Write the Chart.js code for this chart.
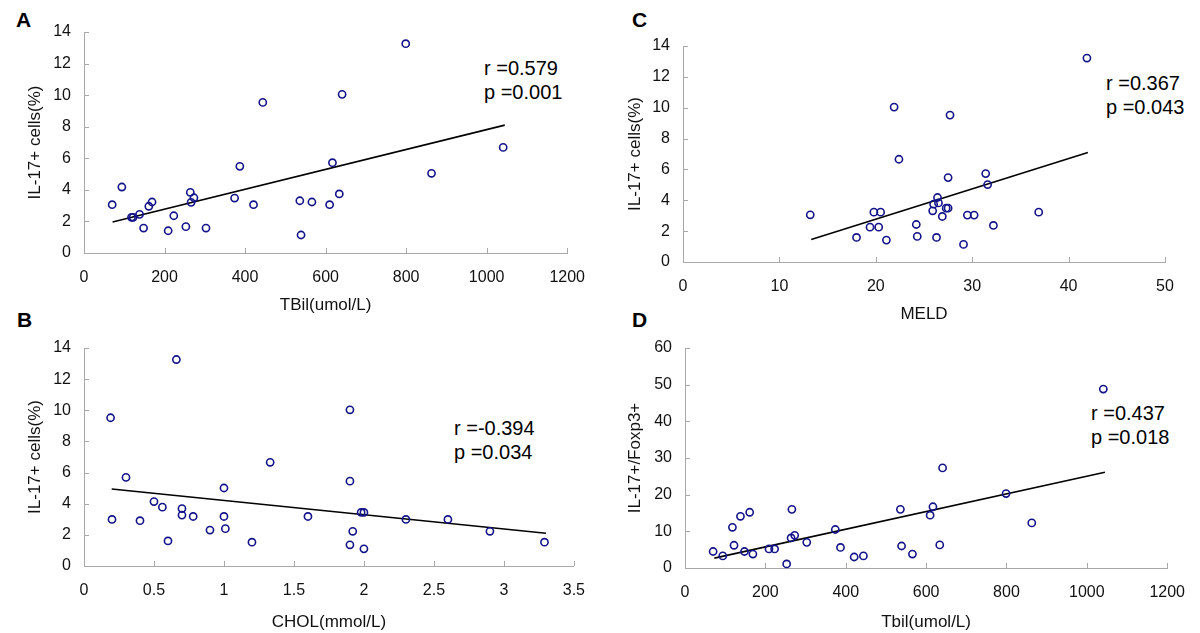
<!DOCTYPE html>
<html>
<head>
<meta charset="utf-8">
<script src="https://cdn.jsdelivr.net/npm/chart.js@4.4.0/dist/chart.umd.min.js"></script>
<style>
  body { margin: 0; background: #fff; width: 1200px; height: 633px; position: relative; overflow: hidden;
         font-family: 'Liberation Sans', Arial, sans-serif; }
  canvas { position: absolute; }
  .tag { position: absolute; font-weight: bold; font-size: 21px; line-height: 24px; color: #000; }
  .stat { position: absolute; font-size: 20px; line-height: 24px; color: #000; white-space: pre; }
</style>
</head>
<body>

<div class="tag" style="left:16px; top:8px;">A</div>
<div class="tag" style="left:632px; top:8px;">C</div>
<div class="tag" style="left:17px; top:308px;">B</div>
<div class="tag" style="left:632px; top:308px;">D</div>

<div class="stat" style="left:484px; top:56px;">r =0.579<br>p =0.001</div>
<div class="stat" style="left:1106px; top:71px;">r =0.367<br>p =0.043</div>
<div class="stat" style="left:454px; top:416px;">r =-0.394<br>p =0.034</div>
<div class="stat" style="left:1091px; top:401px;">r =0.437<br>p =0.018</div>

<script>
// TBil is the same for panels A and D
const tbil = [70, 94, 118, 122, 138, 148, 161, 169, 209, 223, 253, 264, 266, 273, 303, 374, 387, 421, 444, 536, 539, 566, 610, 617, 634, 641, 799, 863, 1041];
const il17A = [3.06, 4.18, 2.26, 2.26, 2.45, 1.58, 2.96, 3.23, 1.41, 2.36, 1.67, 3.84, 3.21, 3.50, 1.58, 3.48, 5.49, 3.06, 9.54, 3.31, 1.14, 3.23, 3.06, 5.72, 3.74, 10.05, 13.26, 5.05, 6.69];
const ratioD = [4.5, 3.3, 11.1, 6.2, 14.1, 4.5, 15.2, 3.8, 5.2, 5.2, 1.1, 8.2, 16.0, 8.9, 7.0, 10.5, 5.6, 3.0, 3.3, 16.0, 6.0, 3.8, 14.4, 16.7, 6.3, 27.3, 20.3, 12.3, 48.8];

const meld = [13.2, 18.0, 19.4, 19.8, 20.3, 20.5, 21.1, 21.9, 22.4, 24.2, 24.3, 25.9, 26.0, 26.3, 26.4, 26.5, 26.9, 27.3, 27.5, 27.5, 27.7, 29.1, 29.5, 30.2, 31.4, 31.6, 32.2, 36.9, 41.9];
const il17C = [3.06, 1.59, 2.26, 3.23, 2.26, 3.23, 1.42, 10.04, 6.66, 2.43, 1.66, 3.32, 3.75, 1.59, 4.18, 3.83, 2.95, 3.49, 3.49, 5.47, 9.52, 1.14, 3.04, 3.04, 5.73, 5.02, 2.37, 3.23, 13.22];

const chol = [0.19, 0.20, 0.30, 0.40, 0.50, 0.56, 0.60, 0.66, 0.70, 0.70, 0.78, 0.90, 1.00, 1.00, 1.01, 1.20, 1.33, 1.60, 1.90, 1.90, 1.90, 1.92, 1.98, 2.00, 2.00, 2.30, 2.60, 2.90, 3.29];
const il17B = [9.52, 2.99, 5.69, 2.91, 4.14, 3.78, 1.61, 13.26, 3.69, 3.27, 3.18, 2.31, 5.01, 3.18, 2.40, 1.53, 6.66, 3.18, 10.03, 5.45, 1.36, 2.23, 3.44, 3.44, 1.10, 2.99, 2.99, 2.23, 1.53];

// regression line end points
const fitAX = [71, 1045], fitAY = [1.96, 8.1];
const fitBX = [0.198, 3.30], fitBY = [4.94, 2.10];
const fitCX = [13.3, 42.0], fitCY = [1.46, 7.09];
const fitDX = [73, 1045], fitDY = [2.7, 26.1];

// tick labels
const tbilTicks = [0, 200, 400, 600, 800, 1000, 1200];
const meldTicks = [0, 10, 20, 30, 40, 50];
const cholTicks = [0, 0.5, 1, 1.5, 2, 2.5, 3, 3.5];
const pctTicks = [0, 2, 4, 6, 8, 10, 12, 14];
const ratioTicks = [0, 10, 20, 30, 40, 50, 60];

const axisColor = '#a8a8a8';
const textColor = '#111';
const markColor = '#13138a';

// small tick marks pointing into the plot, like the original
const innerTicks = {
    id: 'innerTicks',
    afterDraw(chart) {
        const { ctx, chartArea, scales } = chart;
        ctx.save();
        ctx.strokeStyle = axisColor;
        ctx.lineWidth = 1;
        ctx.beginPath();
        scales.x.ticks.forEach(t => {
            const px = Math.round(scales.x.getPixelForValue(t.value)) + 0.5;
            ctx.moveTo(px, chartArea.bottom);
            ctx.lineTo(px, chartArea.bottom - 5);
        });
        scales.y.ticks.forEach(t => {
            const py = Math.round(scales.y.getPixelForValue(t.value)) + 0.5;
            ctx.moveTo(chartArea.left, py);
            ctx.lineTo(chartArea.left + 5, py);
        });
        ctx.stroke();
        ctx.restore();
    }
};

function makePanel(box, area, xTitleY, yTitleX, xs, ys, fitX, fitY, xTicks, yTicks, xTitle, yTitle) {
    const canvas = document.createElement('canvas');
    canvas.width = box.w;
    canvas.height = box.h;
    canvas.style.left = box.left + 'px';
    canvas.style.top = box.top + 'px';
    document.body.appendChild(canvas);

    const tickFont = { family: "'Liberation Sans', Arial, sans-serif", size: 16 };
    const titleFont = { family: "'Liberation Sans', Arial, sans-serif", size: 17 };
    const xBoxH = box.top + box.h - area.bottom;
    const yBoxW = area.left - box.left;

    new Chart(canvas, {
        type: 'scatter',
        data: {
            datasets: [{
                data: xs.map((x, i) => ({ x: x, y: ys[i] })),
                pointRadius: 3.6,
                pointBorderWidth: 1.6,
                pointBorderColor: markColor,
                pointBackgroundColor: 'rgba(0,0,0,0)',
                clip: false
            }, {
                data: fitX.map((x, i) => ({ x: x, y: fitY[i] })),
                showLine: true,
                borderColor: '#000',
                borderWidth: 1.6,
                pointRadius: 0,
                fill: false,
                clip: false
            }]
        },
        options: {
            responsive: false,
            animation: false,
            events: [],
            layout: { padding: { left: 0, top: area.top - box.top, right: box.left + box.w - area.right, bottom: 0 } },
            plugins: { legend: { display: false }, tooltip: { enabled: false } },
            scales: {
                x: {
                    type: 'linear',
                    min: xTicks[0],
                    max: xTicks[xTicks.length - 1],
                    afterBuildTicks: s => { s.ticks = xTicks.map(v => ({ value: v })); },
                    afterFit: s => { s.height = xBoxH; },
                    ticks: { color: textColor, font: tickFont, padding: 15, maxRotation: 0, autoSkip: false,
                             callback: v => String(v) },
                    grid: { display: false, drawTicks: false },
                    border: { display: true, color: axisColor, width: 1 },
                    title: { display: true, text: xTitle, color: textColor, font: titleFont,
                             padding: { top: 0, bottom: (box.top + box.h - xTitleY) - 10.2 } }
                },
                y: {
                    type: 'linear',
                    min: yTicks[0],
                    max: yTicks[yTicks.length - 1],
                    afterBuildTicks: s => { s.ticks = yTicks.map(v => ({ value: v })); },
                    afterFit: s => { s.width = yBoxW; },
                    ticks: { color: textColor, font: tickFont, padding: 13, autoSkip: false,
                             callback: v => String(v) },
                    grid: { display: false, drawTicks: false },
                    border: { display: true, color: axisColor, width: 1 },
                    title: { display: true, text: yTitle, color: textColor, font: titleFont,
                             padding: { top: (yTitleX - box.left) - 10.2, bottom: 0 } }
                }
            }
        },
        plugins: [innerTicks]
    });
}

makePanel({ left: 0, top: 0, w: 600, h: 320 }, { left: 84, top: 32, right: 570, bottom: 253 }, 305, 35,
    tbil, il17A, fitAX, fitAY, tbilTicks, pctTicks, 'TBil(umol/L)', 'IL-17+ cells(%)');

makePanel({ left: 600, top: 0, w: 600, h: 330 }, { left: 683, top: 46, right: 1165, bottom: 262 }, 314, 635,
    meld, il17C, fitCX, fitCY, meldTicks, pctTicks, 'MELD', 'IL-17+ cells(%)');

makePanel({ left: 0, top: 300, w: 600, h: 333 }, { left: 84, top: 348, right: 578, bottom: 566 }, 622, 35,
    chol, il17B, fitBX, fitBY, cholTicks, pctTicks, 'CHOL(mmol/L)', 'IL-17+ cells(%)');

makePanel({ left: 600, top: 300, w: 600, h: 333 }, { left: 685, top: 348, right: 1169, bottom: 568 }, 622, 635,
    tbil, ratioD, fitDX, fitDY, tbilTicks, ratioTicks, 'Tbil(umol/L)', 'IL-17+/Foxp3+');
</script>
</body>
</html>
